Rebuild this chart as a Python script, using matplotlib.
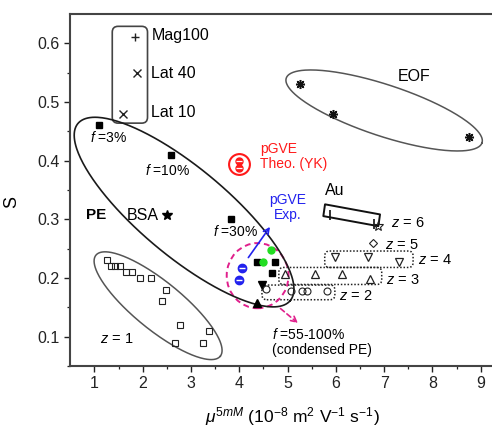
import numpy as np
import matplotlib
matplotlib.use("Agg")
import matplotlib.pyplot as plt
from matplotlib.patches import FancyBboxPatch, Ellipse, Polygon

plt.rcParams['font.family'] = ['Liberation Sans', 'DejaVu Sans']
plt.rcParams['mathtext.fontset'] = 'custom'
plt.rcParams['mathtext.rm'] = 'Liberation Sans'
plt.rcParams['mathtext.it'] = 'Liberation Sans:italic'

# ---- data ----
# polyelectrolyte (PE), filled squares
pe_x = [1.10, 2.58, 3.82, 4.36, 4.75, 4.67]
pe_y = [0.46, 0.41, 0.30, 0.227, 0.227, 0.208]
pe_dn_x, pe_dn_y = [4.47], [0.188]
pe_up_x, pe_up_y = [4.36], [0.157]
green_x = [4.65, 4.49]
green_y = [0.247, 0.227]
gve_exp_x = [4.06, 4.00]
gve_exp_y = [0.217, 0.197]
gve_theo_x = [4.00, 3.99]
gve_theo_y = [0.400, 0.388]

bsa_x, bsa_y = [2.50], [0.307]

mag_x, mag_y = [1.84], [0.61]
lat_x = [1.88, 1.59]
lat_y = [0.55, 0.48]

eof_x = [5.26, 5.95, 8.75]
eof_y = [0.53, 0.48, 0.44]

au_x = [5.88, 6.79]
au_y = [0.308, 0.292]

z1_x = [1.27, 1.34, 1.43, 1.53, 1.66, 1.77, 1.95, 2.17, 2.48, 2.41, 2.77, 3.37, 2.66, 3.24]
z1_y = [0.23, 0.22, 0.22, 0.22, 0.21, 0.21, 0.20, 0.20, 0.18, 0.16, 0.12, 0.11, 0.09, 0.09]
z2_x = [4.55, 5.07, 5.29, 5.40, 5.81]
z2_y = [0.182, 0.178, 0.178, 0.178, 0.178]
z3_x = [4.95, 5.57, 6.13, 6.71]
z3_y = [0.207, 0.207, 0.207, 0.198]
z4_x = [5.98, 6.67, 7.31]
z4_y = [0.235, 0.235, 0.227]
z5_x, z5_y = [6.76], [0.259]
z6_x, z6_y = [6.88], [0.289]

x_ticks = [1, 2, 3, 4, 5, 6, 7, 8, 9]
y_ticks = [0.1, 0.2, 0.3, 0.4, 0.5, 0.6]

MAGENTA = '#e0208c'
RED = '#ff1a1a'
BLUE = '#2222ee'


def draw_ellipse(ax, c, u, v, **kw):
    # ellipse as c + u cos t + v sin t, axes vectors in data units
    t = np.linspace(0, 2 * np.pi, 300)
    ax.plot(c[0] + u[0] * np.cos(t) + v[0] * np.sin(t),
            c[1] + u[1] * np.cos(t) + v[1] * np.sin(t), **kw)


def dotted_box(ax, x0, y0, x1, y1):
    box = FancyBboxPatch((x0, y0), x1 - x0, y1 - y0,
                         boxstyle="round,pad=0,rounding_size=0.1",
                         mutation_aspect=0.083, fill=False,
                         ec='#222222', lw=1.1, ls=(0, (1, 1.2)))
    ax.add_patch(box)


fig = plt.figure(figsize=(4.92, 4.30), dpi=100)
ax = fig.add_axes([0.1423, 0.1488, 0.8577, 0.8186])
ax.set_xlim(0.495, 9.234)
ax.set_ylim(0.05, 0.65)

# groups
draw_ellipse(ax, (2.857, 0.3124), (2.20, -0.1508), (0.580, 0.0581), color='#1a1a1a', lw=1.2)
draw_ellipse(ax, (2.319, 0.1528), (1.288, -0.0861), (0.312, 0.0320), color='#555555', lw=1.1)
draw_ellipse(ax, (7.00, 0.4856), (2.027, -0.0551), (0.165, 0.0416), color='#555555', lw=1.1)

ax.add_patch(FancyBboxPatch((1.37, 0.464), 0.73, 0.165,
                            boxstyle="round,pad=0,rounding_size=0.12",
                            mutation_aspect=0.083, fill=False, ec='#444444', lw=1.2))
ax.add_patch(Polygon([(5.776, 0.3256), (6.915, 0.3084), (6.88, 0.2884), (5.741, 0.3055)],
                     closed=True, fill=False, ec='#111111', lw=1.4, joinstyle='round'))

dotted_box(ax, 4.47, 0.163, 5.98, 0.188)
dotted_box(ax, 4.82, 0.189, 6.95, 0.218)
dotted_box(ax, 5.77, 0.218, 7.60, 0.246)

ax.add_patch(Ellipse((4.38, 0.204), 1.28, 0.111, fill=False, ec=MAGENTA, lw=1.4, ls=(0, (3, 2))))

# markers
ax.plot(pe_x, pe_y, 's', color='k', ms=4.5)
ax.plot(pe_dn_x, pe_dn_y, 'v', color='k', ms=5.5)
ax.plot(pe_up_x, pe_up_y, '^', color='k', ms=5.5)
ax.plot(green_x, green_y, 'o', color='#22dd22', ms=5)
ax.plot(gve_exp_x, gve_exp_y, 'o', color=BLUE, ms=6)
ax.plot(gve_exp_x, gve_exp_y, '_', color='white', ms=5, mew=1)
ax.plot([4.0], [0.394], 'o', mfc='none', mec=RED, ms=15, mew=1.5)
ax.plot(gve_theo_x, gve_theo_y, 'o', color=RED, ms=5)
ax.plot(gve_theo_x, gve_theo_y, '_', color='white', ms=4, mew=0.9)
ax.plot(bsa_x, bsa_y, '*', color='k', ms=7)
ax.plot(mag_x, mag_y, '+', color='#222222', ms=5.5, mew=1)
ax.plot(lat_x, lat_y, 'x', color='#222222', ms=5.5, mew=1)
ax.plot(eof_x, eof_y, marker=(8, 2, 0), ls='none', color='#111111', ms=6.5, mew=1.1)
ax.plot(au_x, au_y, '|', color='#111111', ms=7, mew=1.2)
ax.plot(z1_x, z1_y, 's', mfc='none', mec='#222222', ms=4.5, mew=0.8)
ax.plot(z2_x, z2_y, 'o', mfc='none', mec='#222222', ms=5, mew=0.8)
ax.plot(z3_x, z3_y, '^', mfc='none', mec='#222222', ms=5.5, mew=0.9)
ax.plot(z4_x, z4_y, 'v', mfc='none', mec='#222222', ms=5.5, mew=0.9)
ax.plot(z5_x, z5_y, 'D', mfc='none', mec='#222222', ms=4, mew=0.8)
ax.plot(z6_x, z6_y, '*', mfc='none', mec='#222222', ms=7, mew=0.8)

# arrows
ax.annotate('', xy=(4.67, 0.291), xytext=(4.155, 0.231),
            arrowprops=dict(arrowstyle='->', color=BLUE, lw=1.2))
ax.annotate('', xy=(5.26, 0.120), xytext=(4.81, 0.151),
            arrowprops=dict(arrowstyle='->', color=MAGENTA, lw=1.2, ls=(0, (3, 2))))

# labels
big = 11.5
small = 10
ax.text(2.18, 0.614, 'Mag100', fontsize=big, va='center')
ax.text(2.18, 0.549, 'Lat 40', fontsize=big, va='center')
ax.text(2.18, 0.482, 'Lat 10', fontsize=big, va='center')
ax.text(0.91, 0.439, r'$f$ =3%', fontsize=small, va='center')
ax.text(2.05, 0.383, r'$f$ =10%', fontsize=small, va='center')
ax.text(3.45, 0.279, r'$f$ =30%', fontsize=small, va='center')
ax.text(0.83, 0.307, 'PE', fontsize=11, fontweight='bold', va='center')
ax.text(1.67, 0.307, 'BSA', fontsize=big, va='center')
ax.text(7.29, 0.544, 'EOF', fontsize=big, va='center')
ax.text(5.77, 0.350, 'Au', fontsize=big, va='center')
ax.text(4.43, 0.407, 'pGVE\nTheo. (YK)', fontsize=small, color=RED, va='center', linespacing=1.1)
ax.text(5.01, 0.320, 'pGVE\nExp.', fontsize=small, color=BLUE, va='center', ha='center', linespacing=1.1)
ax.text(4.68, 0.091, r'$f$ =55-100%' + '\n(condensed PE)', fontsize=small, va='center', linespacing=1.05)
ax.text(1.12, 0.0957, r'$z$ = 1', fontsize=10.5, va='center')
ax.text(6.07, 0.170, r'$z$ = 2', fontsize=10.5, va='center')
ax.text(7.04, 0.197, r'$z$ = 3', fontsize=10.5, va='center')
ax.text(7.71, 0.230, r'$z$ = 4', fontsize=10.5, va='center')
ax.text(7.02, 0.257, r'$z$ = 5', fontsize=10.5, va='center')
ax.text(7.14, 0.293, r'$z$ = 6', fontsize=10.5, va='center')

# axes styling
ax.set_xticks(x_ticks)
ax.set_yticks(y_ticks)
ax.set_xticks(np.arange(1.5, 9.5, 1.0), minor=True)
ax.set_yticks(np.arange(0.05, 0.65, 0.1), minor=True)
ax.tick_params(which='major', direction='out', length=4, width=1, labelsize=11.5, colors='#222222')
ax.tick_params(which='minor', direction='out', length=2.5, width=0.9, colors='#222222')
ax.yaxis.set_major_formatter(matplotlib.ticker.FormatStrFormatter('%.1f'))
ax.spines['right'].set_visible(False)
for s in ['left', 'bottom', 'top']:
    ax.spines[s].set_linewidth(1.5)
    ax.spines[s].set_color('#444444')

ax.set_xlabel(r'$\mu^{5mM}$ (10$^{-8}$ m$^{2}$ V$^{-1}$ s$^{-1}$)', fontsize=12.5)
ax.xaxis.set_label_coords(0.526, -0.112)
ax.set_ylabel('S', fontsize=13)
ax.yaxis.set_label_coords(-0.118, 0.466)

fig.savefig('out.png', dpi=100)
